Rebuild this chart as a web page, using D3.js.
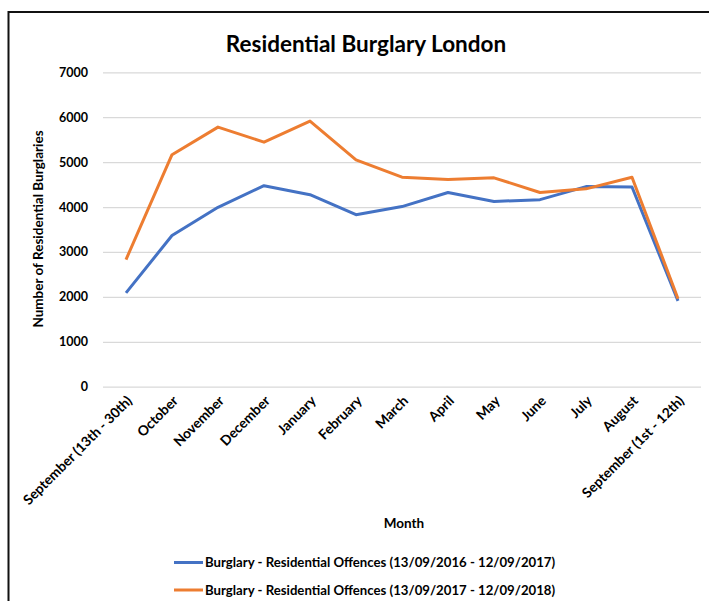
<!DOCTYPE html>
<html><head><meta charset="utf-8">
<script src="https://cdn.jsdelivr.net/npm/d3@7"></script>
<style>body{margin:0;background:#fff}svg{display:block}text{font-family:Lato,"Open Sans",sans-serif;font-weight:bold;fill:#000}</style>
</head><body><svg id="c" width="709" height="601"></svg>
<script>
const months = ["September (13th - 30th)","October","November","December","January","February","March","April","May","June","July","August","September (1st - 12th)"];
const series1 = [2090,3365,3995,4475,4275,3830,4010,4325,4125,4165,4455,4445,1910];
const series2 = [2830,5165,5780,5445,5915,5050,4665,4615,4650,4325,4405,4665,1960];
const seriesNames = ["Burglary - Residential Offences (13/09/2016 - 12/09/2017)","Burglary - Residential Offences (13/09/2017 - 12/09/2018)"];
const colors = ["#4472C4","#ED7D31"];
const yTicks = [0,1000,2000,3000,4000,5000,6000,7000];

const svg = d3.select("#c");
svg.append("rect").attr("x",8.5).attr("y",12).attr("width",720).attr("height",620).attr("fill","none").attr("stroke","#111").attr("stroke-width",2);

const x = d3.scaleBand().domain(months).range([103,701]);
const y = d3.scaleLinear().domain([0,7000]).range([386.7,72.3]);

svg.append("text").attr("x",366).attr("y",52).attr("text-anchor","middle").style("font-size","22.5px").text("Residential Burglary London");

const gy = svg.append("g").attr("transform","translate(103,0)")
  .call(d3.axisLeft(y).tickValues(yTicks).tickSize(-598).tickPadding(15).tickFormat(d3.format("d")));
gy.select(".domain").remove();
gy.selectAll(".tick line").attr("stroke","#d9d9d9").attr("stroke-width",1.3);
gy.selectAll(".tick text").style("font-size","12.5px").style("font-family","Lato").style("font-weight","bold");

const gx = svg.append("g").attr("transform","translate(0,386.7)")
  .call(d3.axisBottom(x).tickSize(0).tickPadding(0));
gx.select(".domain").remove();
gx.selectAll(".tick text").attr("text-anchor","end").attr("dy",0).attr("y",0)
  .attr("transform","translate(7,15) rotate(-45)")
  .style("font-size","13.8px").style("font-family","Lato").style("font-weight","bold");

svg.append("text").attr("transform","translate(43,229) rotate(-90)").attr("text-anchor","middle").style("font-size","13.5px").text("Number of  Residential Burglaries");
svg.append("text").attr("x",404).attr("y",528).attr("text-anchor","middle").style("font-size","13.5px").text("Month");

const line = d3.line().x((d,i)=>x(months[i])+x.bandwidth()/2).y(d=>y(d));
[series1,series2].forEach((s,k)=>{
  svg.append("path").datum(s).attr("d",line).attr("fill","none").attr("stroke",colors[k]).attr("stroke-width",3).attr("stroke-linejoin","round");
});

seriesNames.forEach((n,k)=>{
  const ly = 562.5 + k*27.5;
  svg.append("line").attr("x1",174).attr("x2",203).attr("y1",ly).attr("y2",ly).attr("stroke",colors[k]).attr("stroke-width",3);
  svg.append("text").attr("x",205).attr("y",ly+4.5).style("font-size","13.2px").text(n);
});
</script></body></html>
